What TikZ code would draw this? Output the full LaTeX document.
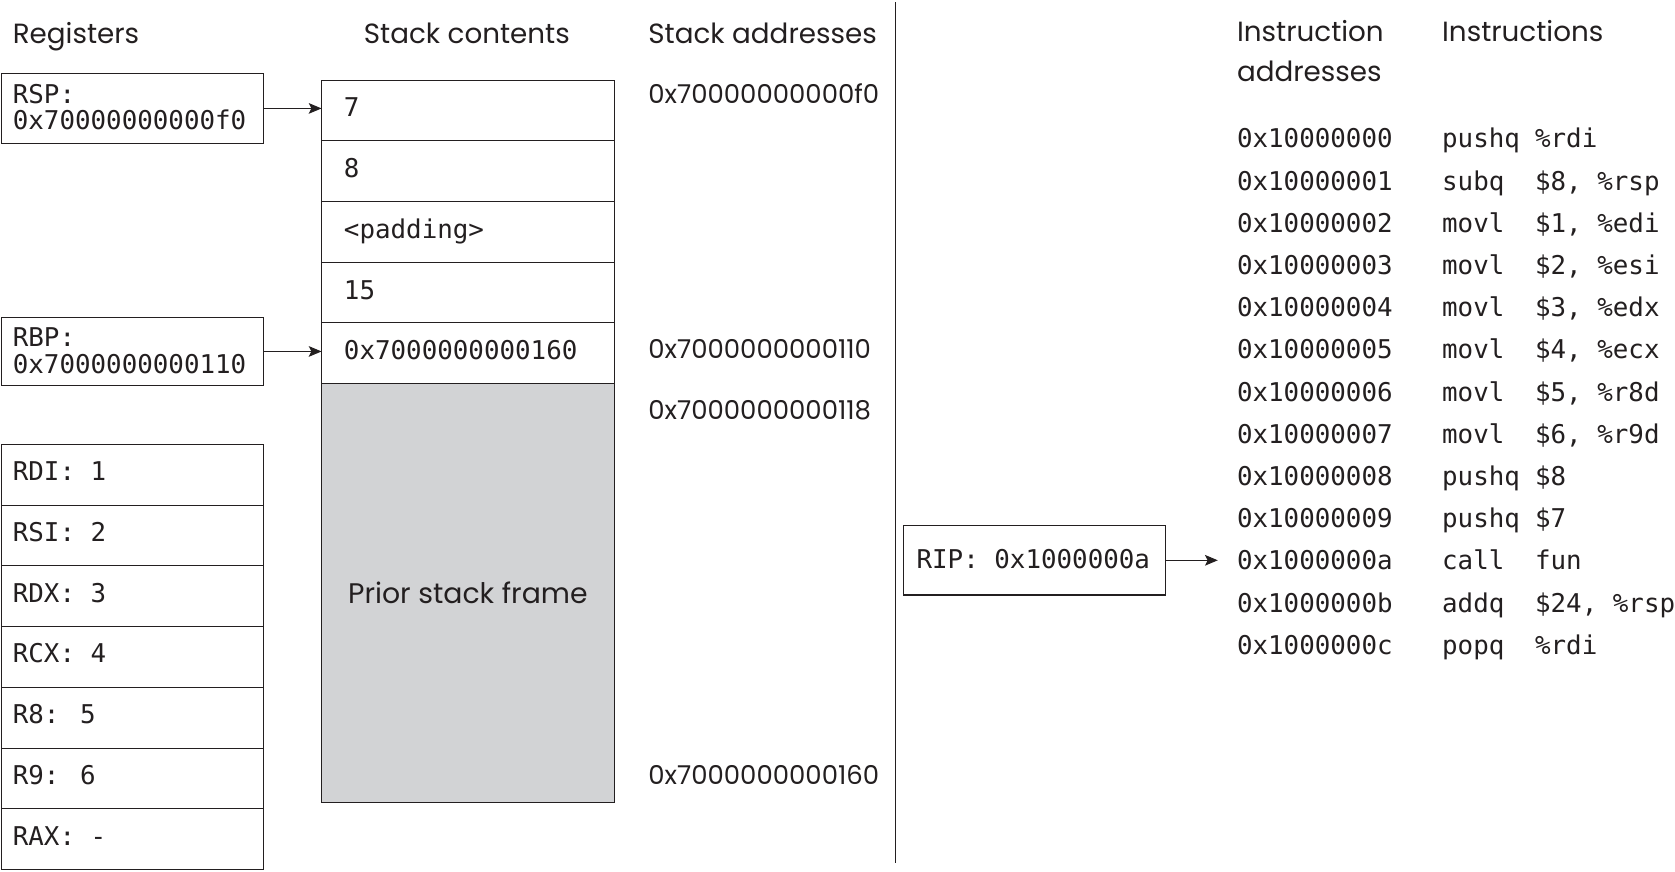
\documentclass[tikz,border=0pt]{standalone}
\usepackage{fontspec}
\setmainfont{Poppins}
\newfontfamily\monof{DejaVu Sans Mono}
\usetikzlibrary{arrows.meta}
\definecolor{framegray}{RGB}{210,211,213}
\definecolor{ink}{RGB}{35,31,32}
\begin{document}
\begin{tikzpicture}[x=1pt,y=-1pt,
  every node/.style={inner sep=0pt, outer sep=0pt, text=ink},
  box/.style={draw=ink, line width=1pt, anchor=north west},
  mono/.style={font=\monof\fontsize{24.2}{26}\selectfont, anchor=base west},
  head/.style={font=\fontsize{26}{28}\selectfont, anchor=base west},
  saddr/.style={font=\fontsize{24.3}{26}\selectfont, anchor=base west},
  arr/.style={draw=ink, -{Stealth[length=12pt,width=10pt,inset=2.5pt]}, line width=1pt},
  sep/.style={draw=ink, line width=1.3pt},
]
\useasboundingbox (0,0) rectangle (1568,816);

% headers
\node[head] (hreg) at (12,41) {Registers};
\node[head, anchor=base] (hstack) at (437,41) {Stack contents};
\node[head] (haddr) at (607,41) {Stack addresses};
\node[head] (hia1) at (1158,39) {Instruction};
\node[head] (hia2) at (1158,76) {addresses};
\node[head] (hins) at (1350,39) {Instructions};

% RSP / RBP
\node[box, minimum width=246pt, minimum height=65pt] (rsp) at (1,69) {};
\node[mono] (rspa) at (12,96.5) {RSP:};
\node[mono] (rspb) at (12,121.5) {0x70000000000f0};
\node[box, minimum width=246pt, minimum height=64pt] (rbp) at (1,297) {};
\node[mono] (rbpa) at (12,324.5) {RBP:};
\node[mono] (rbpb) at (12,349.5) {0x7000000000110};

% stack cells
\foreach \t [count=\k from 0] in {7,8,<padding>,15,0x7000000000160}{
  \node[box, minimum width=274pt, minimum height=56.8pt] (c\k) at (301,{75+56.8*\k}) {};
  \node[mono] (ct\k) at (322,{75+56.8*\k+34.5}) {\t};
}
\node[box, fill=framegray, minimum width=274pt, minimum height=392pt] (prior) at (301,359) {};
\node[font=\fontsize{26.5}{30}\selectfont] (priort) at (prior.center) {Prior stack frame};

\draw[arr] (rsp.east) -- (rsp.east -| c0.west);
\draw[arr] (rbp.east) -- (rbp.east -| c4.west);

% register table
\foreach \t [count=\k from 0] in {RDI: 1,RSI: 2,RDX: 3,RCX: 4,R8: 5,R9: 6,RAX: -}{
  \node[box, minimum width=246pt, minimum height=56.86pt] (r\k) at (1,{416+56.86*\k}) {};
  \node[mono] (rt\k) at (12,{416+56.86*\k+34}) {\t};
}

% stack addresses
\node[saddr] (sa1) at (607,97) {0x70000000000f0};
\node[saddr] (sa2) at (607,336) {0x7000000000110};
\node[saddr] (sa3) at (607,393) {0x7000000000118};
\node[saddr] (sa4) at (607,734) {0x7000000000160};

% separator
\coordinate (vtop) at (838,2);
\coordinate (vbot) at (838,808);
\draw[sep] (vtop) -- (vbot);

% RIP
\node[box, minimum width=245pt, minimum height=65pt] (rip) at (846,492) {};
\node[mono] (ript) at (858,532.5) {RIP: 0x1000000a};
\coordinate (ripend) at (1140,524.5);
\draw[arr] (rip.east) -- (rip.east -| ripend);

% instructions
\foreach \a/\m/\o [count=\k from 0] in {
  0x10000000/pushq/\%rdi,
  0x10000001/subq/{\$8, \%rsp},
  0x10000002/movl/{\$1, \%edi},
  0x10000003/movl/{\$2, \%esi},
  0x10000004/movl/{\$3, \%edx},
  0x10000005/movl/{\$4, \%ecx},
  0x10000006/movl/{\$5, \%r8d},
  0x10000007/movl/{\$6, \%r9d},
  0x10000008/pushq/\$8,
  0x10000009/pushq/\$7,
  0x1000000a/call/fun,
  0x1000000b/addq/{\$24, \%rsp},
  0x1000000c/popq/\%rdi}{
  \node[mono] (ia\k) at (1158,{138.5+39.5*\k}) {\a};
  \node[mono] (im\k) at (1350,{138.5+39.5*\k}) {\m};
  \node[mono] (io\k) at (1437,{138.5+39.5*\k}) {\o};
}
\end{tikzpicture}
\end{document}
